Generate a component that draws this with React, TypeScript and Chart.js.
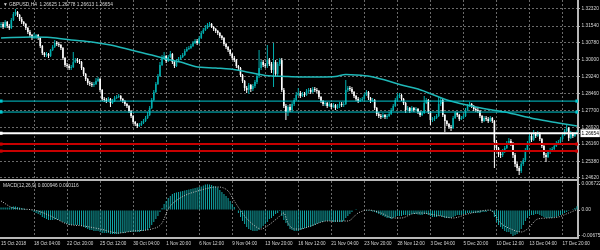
import React, { useEffect, useRef } from 'react';
import { Chart, registerables } from 'chart.js';

Chart.register(...registerables);

// ---------------- data ----------------
const symbolTitle = '▼ GBPUSD,H4  1.26625 1.26778 1.26613 1.26654';
const macdTitle = 'MACD(12,26,9) 0.000946 0.000116';

const dateTicks = ['15 Oct 2018', '18 Oct 04:00', '22 Oct 20:00', '25 Oct 12:00', '30 Oct 04:00', '1 Nov 20:00',
  '6 Nov 12:00', '9 Nov 04:00', '13 Nov 20:00', '16 Nov 12:00', '21 Nov 04:00', '23 Nov 20:00', '28 Nov 12:00',
  '3 Dec 04:00', '5 Dec 20:00', '10 Dec 12:00', '13 Dec 04:00', '17 Dec 20:00'];
const barsPerDateTick = 16;

const priceTicks = [1.2462, 1.2538, 1.2616, 1.2692, 1.277, 1.2846, 1.2924, 1.3, 1.3078, 1.3154, 1.3232];
const lastPrice = 1.26654;
const priceMin = 1.24522;
const priceMax = 1.3273;

const macdTicks = [-0.00675, 0, 0.006722];
const macdMin = -0.00728;
const macdMax = 0.00754;

const firstOpen = 1.3159;
const lastOpen = 1.26625;

const closes = [
  1.3164, 1.3150, 1.3173, 1.3154, 1.3145, 1.3182, 1.3209, 1.3218, 1.3205, 1.3186,
  1.3173, 1.3164, 1.3145, 1.3127, 1.3113, 1.3100, 1.3104, 1.3113, 1.3100, 1.3063,
  1.3031, 1.3022, 1.3027, 1.3018, 1.3045, 1.3059, 1.3077, 1.3072, 1.3068, 1.3054,
  1.3009, 1.2977, 1.2972, 1.2963, 1.2967, 1.2990, 1.2999, 1.2995, 1.2990, 1.2963,
  1.2936, 1.2913, 1.2895, 1.2890, 1.2885, 1.2890, 1.2904, 1.2913, 1.2863, 1.2822,
  1.2817, 1.2812, 1.2822, 1.2803, 1.2812, 1.2826, 1.2831, 1.2835, 1.2822, 1.2812,
  1.2799, 1.2790, 1.2767, 1.2744, 1.2717, 1.2708, 1.2698, 1.2703, 1.2712, 1.2721,
  1.2735, 1.2749, 1.2781, 1.2817, 1.2853, 1.2890, 1.2926, 1.2977, 1.3009, 1.3018,
  1.2995, 1.3013, 1.3027, 1.2990, 1.2972, 1.2995, 1.3004, 1.3013, 1.3022, 1.3040,
  1.3050, 1.3054, 1.3063, 1.3077, 1.3086, 1.3077, 1.3100, 1.3123, 1.3136, 1.3145,
  1.3159, 1.3164, 1.3150, 1.3141, 1.3132, 1.3123, 1.3109, 1.3100, 1.3072, 1.3059,
  1.3045, 1.3027, 1.3009, 1.2999, 1.2972, 1.2963, 1.2931, 1.2904, 1.2872, 1.2863,
  1.2885, 1.2867, 1.2881, 1.2899, 1.2926, 1.2963, 1.2990, 1.2977, 1.2972, 1.2999,
  1.2981, 1.2954, 1.2990, 1.2936, 1.2981, 1.2999, 1.2863, 1.2790, 1.2762, 1.2785,
  1.2771, 1.2799, 1.2817, 1.2840, 1.2849, 1.2835, 1.2844, 1.2840, 1.2858, 1.2863,
  1.2853, 1.2867, 1.2863, 1.2858, 1.2831, 1.2812, 1.2799, 1.2803, 1.2790, 1.2799,
  1.2785, 1.2794, 1.2781, 1.2790, 1.2799, 1.2794, 1.2799, 1.2863, 1.2872, 1.2867,
  1.2853, 1.2835, 1.2822, 1.2812, 1.2817, 1.2822, 1.2840, 1.2853, 1.2826, 1.2812,
  1.2817, 1.2781, 1.2753, 1.2744, 1.2739, 1.2749, 1.2739, 1.2744, 1.2753, 1.2771,
  1.2790, 1.2817, 1.2835, 1.2840, 1.2822, 1.2803, 1.2771, 1.2781, 1.2767, 1.2781,
  1.2771, 1.2776, 1.2762, 1.2749, 1.2758, 1.2803, 1.2817, 1.2762, 1.2726, 1.2730,
  1.2735, 1.2744, 1.2799, 1.2817, 1.2749, 1.2721, 1.2708, 1.2694, 1.2689, 1.2735,
  1.2758, 1.2749, 1.2730, 1.2735, 1.2744, 1.2771, 1.2790, 1.2799, 1.2790, 1.2776,
  1.2771, 1.2767, 1.2744, 1.2721, 1.2735, 1.2730, 1.2721, 1.2735, 1.2721, 1.2625,
  1.2598, 1.2571, 1.2566, 1.2584, 1.2598, 1.2621, 1.2630, 1.2621, 1.2566, 1.2525,
  1.2507, 1.2493, 1.2525, 1.2543, 1.2589, 1.2621, 1.2653, 1.2635, 1.2662, 1.2653,
  1.2662, 1.2639, 1.2607, 1.2566, 1.2557, 1.2580, 1.2589, 1.2594, 1.2607, 1.2621,
  1.2625, 1.2639, 1.2657, 1.2676, 1.2689, 1.2644, 1.2667, 1.2653, 1.2662, 1.26654,
];

const highs = [
  1.3173, 1.3173, 1.3182, 1.3177, 1.3164, 1.3191, 1.3218, 1.3232, 1.3223, 1.3209,
  1.3195, 1.3177, 1.3168, 1.3150, 1.3136, 1.3118, 1.3123, 1.3118, 1.3118, 1.3104,
  1.3068, 1.3036, 1.3036, 1.3031, 1.3050, 1.3068, 1.3091, 1.3086, 1.3081, 1.3072,
  1.3059, 1.3013, 1.2986, 1.2981, 1.2977, 1.3036, 1.3009, 1.3009, 1.3004, 1.2995,
  1.2967, 1.2940, 1.2917, 1.2904, 1.2899, 1.2899, 1.2917, 1.2922, 1.2917, 1.2867,
  1.2831, 1.2826, 1.2831, 1.2826, 1.2822, 1.2835, 1.2840, 1.2844, 1.2840, 1.2826,
  1.2817, 1.2803, 1.2794, 1.2771, 1.2749, 1.2721, 1.2712, 1.2712, 1.2721, 1.2730,
  1.2744, 1.2762, 1.2790, 1.2826, 1.2863, 1.2899, 1.2936, 1.2990, 1.3022, 1.3036,
  1.3022, 1.3022, 1.3040, 1.3031, 1.2999, 1.3004, 1.3013, 1.3022, 1.3031, 1.3050,
  1.3059, 1.3063, 1.3072, 1.3086, 1.3095, 1.3095, 1.3109, 1.3132, 1.3145, 1.3159,
  1.3168, 1.3173, 1.3168, 1.3154, 1.3145, 1.3136, 1.3127, 1.3113, 1.3104, 1.3077,
  1.3063, 1.3050, 1.3031, 1.3018, 1.3004, 1.2977, 1.2967, 1.2936, 1.2908, 1.2881,
  1.2895, 1.2890, 1.2890, 1.2908, 1.2936, 1.3045, 1.2999, 1.2999, 1.2986, 1.3068,
  1.3009, 1.2990, 1.3077, 1.2999, 1.2990, 1.3009, 1.3009, 1.2872, 1.2799, 1.2794,
  1.2799, 1.2808, 1.2826, 1.2853, 1.2872, 1.2858, 1.2853, 1.2853, 1.2867, 1.2872,
  1.2872, 1.2876, 1.2876, 1.2872, 1.2863, 1.2835, 1.2817, 1.2812, 1.2808, 1.2808,
  1.2803, 1.2803, 1.2799, 1.2799, 1.2808, 1.2808, 1.2808, 1.2908, 1.2881, 1.2881,
  1.2876, 1.2858, 1.2840, 1.2831, 1.2826, 1.2831, 1.2849, 1.2863, 1.2858, 1.2831,
  1.2826, 1.2822, 1.2785, 1.2762, 1.2753, 1.2758, 1.2753, 1.2753, 1.2762, 1.2781,
  1.2799, 1.2826, 1.2849, 1.2849, 1.2844, 1.2826, 1.2808, 1.2790, 1.2785, 1.2790,
  1.2785, 1.2785, 1.2781, 1.2767, 1.2767, 1.2835, 1.2826, 1.2822, 1.2767, 1.2739,
  1.2744, 1.2753, 1.2831, 1.2826, 1.2822, 1.2753, 1.2726, 1.2712, 1.2703, 1.2744,
  1.2767, 1.2762, 1.2753, 1.2744, 1.2753, 1.2781, 1.2799, 1.2808, 1.2803, 1.2794,
  1.2785, 1.2781, 1.2771, 1.2749, 1.2744, 1.2744, 1.2739, 1.2744, 1.2739, 1.2726,
  1.2635, 1.2603, 1.2580, 1.2594, 1.2607, 1.2630, 1.2644, 1.2639, 1.2625, 1.2575,
  1.2534, 1.2516, 1.2534, 1.2553, 1.2598, 1.2630, 1.2667, 1.2662, 1.2680, 1.2671,
  1.2676, 1.2671, 1.2644, 1.2612, 1.2575, 1.2589, 1.2598, 1.2603, 1.2616, 1.2630,
  1.2635, 1.2648, 1.2667, 1.2685, 1.2703, 1.2694, 1.2676, 1.2671, 1.2671, 1.26778,
];

const lows = [
  1.3145, 1.3141, 1.3145, 1.3145, 1.3136, 1.3141, 1.3177, 1.3200, 1.3195, 1.3177,
  1.3164, 1.3154, 1.3136, 1.3118, 1.3104, 1.3091, 1.3095, 1.3095, 1.3091, 1.3054,
  1.3022, 1.3013, 1.3013, 1.3009, 1.3013, 1.3040, 1.3054, 1.3063, 1.3059, 1.3045,
  1.2999, 1.2967, 1.2963, 1.2954, 1.2954, 1.2963, 1.2986, 1.2986, 1.2981, 1.2954,
  1.2926, 1.2904, 1.2885, 1.2881, 1.2876, 1.2876, 1.2885, 1.2899, 1.2853, 1.2812,
  1.2808, 1.2803, 1.2808, 1.2785, 1.2799, 1.2808, 1.2822, 1.2826, 1.2812, 1.2803,
  1.2790, 1.2781, 1.2758, 1.2735, 1.2708, 1.2698, 1.2689, 1.2694, 1.2698, 1.2708,
  1.2717, 1.2730, 1.2744, 1.2776, 1.2812, 1.2849, 1.2885, 1.2922, 1.2972, 1.2999,
  1.2986, 1.2990, 1.3009, 1.2981, 1.2963, 1.2967, 1.2990, 1.2999, 1.3009, 1.3018,
  1.3036, 1.3045, 1.3050, 1.3059, 1.3072, 1.3068, 1.3072, 1.3095, 1.3118, 1.3132,
  1.3141, 1.3150, 1.3145, 1.3132, 1.3123, 1.3113, 1.3100, 1.3091, 1.3063, 1.3050,
  1.3036, 1.3018, 1.2999, 1.2990, 1.2963, 1.2949, 1.2922, 1.2895, 1.2858, 1.2849,
  1.2844, 1.2853, 1.2858, 1.2872, 1.2890, 1.2917, 1.2954, 1.2967, 1.2963, 1.2963,
  1.2972, 1.2940, 1.2876, 1.2926, 1.2926, 1.2972, 1.2853, 1.2781, 1.2726, 1.2744,
  1.2762, 1.2762, 1.2790, 1.2812, 1.2835, 1.2826, 1.2831, 1.2831, 1.2835, 1.2849,
  1.2844, 1.2849, 1.2853, 1.2849, 1.2822, 1.2803, 1.2790, 1.2790, 1.2781, 1.2785,
  1.2776, 1.2781, 1.2771, 1.2776, 1.2781, 1.2785, 1.2785, 1.2794, 1.2853, 1.2858,
  1.2844, 1.2826, 1.2812, 1.2803, 1.2808, 1.2812, 1.2817, 1.2835, 1.2817, 1.2803,
  1.2808, 1.2771, 1.2744, 1.2735, 1.2730, 1.2735, 1.2730, 1.2730, 1.2739, 1.2749,
  1.2767, 1.2785, 1.2812, 1.2826, 1.2812, 1.2794, 1.2758, 1.2767, 1.2758, 1.2762,
  1.2762, 1.2767, 1.2753, 1.2739, 1.2744, 1.2753, 1.2799, 1.2753, 1.2703, 1.2717,
  1.2721, 1.2730, 1.2739, 1.2790, 1.2739, 1.2671, 1.2698, 1.2685, 1.2676, 1.2685,
  1.2730, 1.2739, 1.2721, 1.2726, 1.2730, 1.2739, 1.2767, 1.2785, 1.2781, 1.2767,
  1.2762, 1.2758, 1.2735, 1.2712, 1.2717, 1.2721, 1.2712, 1.2717, 1.2712, 1.2507,
  1.2584, 1.2557, 1.2553, 1.2557, 1.2575, 1.2594, 1.2612, 1.2607, 1.2553, 1.2511,
  1.2493, 1.2475, 1.2484, 1.2516, 1.2534, 1.2584, 1.2612, 1.2625, 1.2630, 1.2644,
  1.2648, 1.2630, 1.2598, 1.2553, 1.2534, 1.2553, 1.2571, 1.2580, 1.2589, 1.2603,
  1.2612, 1.2621, 1.2635, 1.2653, 1.2671, 1.2630, 1.2639, 1.2644, 1.2648, 1.26613,
];

// moving average, read at sample bars
const maBars = [0, 15, 24, 34, 44, 53, 63, 73, 80, 87, 94, 104, 111, 119, 128, 138, 145, 155, 162, 167, 172, 179, 186, 194, 202, 216, 230, 244, 259, 270, 279];
const maValues = [1.3100, 1.3104, 1.3102, 1.3091, 1.3082, 1.3068, 1.3045, 1.3022, 1.3004, 1.2990, 1.2970, 1.2963, 1.2958, 1.2945, 1.2929, 1.2924, 1.2922, 1.2922, 1.2924, 1.2933, 1.2931, 1.2924, 1.2908, 1.2885, 1.2867, 1.2817, 1.2785, 1.2762, 1.2730, 1.2712, 1.2698];

const cyanLevels = [1.2812, 1.2762];
const redLevels = [1.2616, 1.2584];

const macdValues = [
  0.00065, 0.00065, 0.00065, 0.00065, 0.00065, 0.00078, 0.00091, 0.00091, 0.00078, 0.00065,
  0.00052, 0.00039, 0.00026, 0.00013, 0, -0.00026, -0.00052, -0.00078, -0.00104, -0.0013,
  -0.00182, -0.00208, -0.00234, -0.0026, -0.0026, -0.0026, -0.00247, -0.00247, -0.0026, -0.00286,
  -0.00312, -0.00338, -0.00364, -0.0039, -0.0039, -0.0039, -0.0039, -0.0039, -0.0039, -0.00416,
  -0.00442, -0.00468, -0.00494, -0.0052, -0.0052, -0.00546, -0.00546, -0.00546, -0.00572, -0.00598,
  -0.00598, -0.00598, -0.00598, -0.00624, -0.00624, -0.00624, -0.00624, -0.00624, -0.00598, -0.00598,
  -0.00598, -0.00572, -0.00572, -0.00572, -0.00572, -0.00572, -0.00572, -0.00572, -0.00546, -0.00546,
  -0.0052, -0.0052, -0.00468, -0.0039, -0.00312, -0.00234, -0.00156, -0.00052, 0.00052, 0.00156,
  0.00234, 0.00312, 0.00364, 0.00416, 0.00442, 0.00455, 0.00468, 0.00481, 0.00494, 0.00507,
  0.0052, 0.00533, 0.00546, 0.00559, 0.00572, 0.00585, 0.00598, 0.00611, 0.00637, 0.00663,
  0.006722, 0.00663, 0.0065, 0.00624, 0.00611, 0.00585, 0.0052, 0.00468, 0.00416, 0.00364,
  0.00312, 0.00234, 0.00156, 0.00078, 0, -0.00078, -0.00182, -0.00286, -0.00364, -0.00442,
  -0.00494, -0.0052, -0.00546, -0.00546, -0.00546, -0.0052, -0.00468, -0.00416, -0.00364, -0.00312,
  -0.00234, -0.00208, -0.00156, -0.00104, -0.00078, -0.00026, -0.00156, -0.0026, -0.00338, -0.00416,
  -0.00494, -0.0052, -0.00546, -0.00546, -0.00546, -0.0052, -0.00494, -0.00468, -0.00468, -0.00442,
  -0.00442, -0.00416, -0.0039, -0.00364, -0.00338, -0.00312, -0.00312, -0.00286, -0.00286, -0.00286,
  -0.00286, -0.00312, -0.00312, -0.00312, -0.00312, -0.00312, -0.00286, -0.00208, -0.00156, -0.00104,
  -0.00052, 0, 0.00026, 0.00013, 0, 0, -0.00013, -0.00026, -0.00026, -0.00026,
  -0.00039, -0.00052, -0.00078, -0.00104, -0.0013, -0.00156, -0.00182, -0.00208, -0.00208, -0.00234,
  -0.00208, -0.00182, -0.00156, -0.00156, -0.00156, -0.0013, -0.0013, -0.0013, -0.0013, -0.00104,
  -0.00104, -0.00104, -0.00117, -0.0013, -0.0013, -0.00104, -0.00104, -0.0013, -0.00156, -0.00182,
  -0.00182, -0.00182, -0.00156, -0.00156, -0.00182, -0.00208, -0.00208, -0.00208, -0.00208, -0.00182,
  -0.00156, -0.0013, -0.0013, -0.0013, -0.00104, -0.00104, -0.00078, -0.00078, -0.00078, -0.00078,
  -0.00078, -0.00078, -0.00078, -0.00052, -0.00052, -0.00052, -0.00026, -0.00026, -0.00052, -0.00182,
  -0.00312, -0.0039, -0.00442, -0.00494, -0.00546, -0.00572, -0.00572, -0.00624, -0.00675, -0.0065,
  -0.00624, -0.00572, -0.00494, -0.0039, -0.00286, -0.00208, -0.00156, -0.0013, -0.0013, -0.00104,
  -0.00104, -0.0013, -0.00156, -0.00182, -0.00208, -0.00208, -0.00208, -0.00208, -0.00182, -0.00182,
  -0.00156, -0.0013, -0.00104, -0.00078, -0.00052, -0.00026, 0, 0.00026, 0.00052, 0.000946,
];

const signalBars = [0, 6, 16, 24, 32, 40, 48, 57, 64, 73, 78, 81, 86, 97, 105, 110, 113, 118, 123, 126, 129, 134, 137, 139, 142, 145, 150, 158, 168, 173, 178, 184, 190, 194, 199, 203, 213, 219, 226, 237, 242, 247, 252, 255, 260, 265, 270, 275, 279];
const signalValues = [0.00234, 0.00052, 0, -0.00156, -0.00364, -0.00416, -0.00494, -0.00598, -0.00546, -0.00494,
  -0.00338, 0.00026, 0.00286, 0.0052, 0.00598, 0.00494, 0.00234, -0.00156, -0.00416, -0.00494,
  -0.00416, -0.00208, -0.00078, -0.00338, -0.00494, -0.00494, -0.00416, -0.00286, -0.00286, -0.00078,
  0, -0.00078, -0.00208, -0.00208, -0.00104, -0.00078, -0.00156, -0.00208, -0.00104, 0,
  -0.00338, -0.00494, -0.00572, -0.00494, -0.00234, -0.00208, -0.00182, -0.00078, 0.000116];

// ---------------- styles ----------------
const BG = '#000000';
const BULL = '#00adad';
const BEAR = '#ffffff';
const MA_COLOR = '#1fb8b8';
const CYAN = '#00c8d0';
const RED = '#c80000';
const WHITE = '#ffffff';
const HIST = '#12a8a8';
const SIGNAL = '#c8c8c8';
const GRID = '#6a6a6a';
const AXIS = '#b8b8b8';
const TEXT = '#d8d8d8';
const FONT = 'Liberation Sans';

function panelTitle(text: string) {
  return {
    id: 'panelTitle',
    afterDraw(chart: any) {
      const ctx = chart.ctx;
      ctx.save();
      ctx.font = `4.8px "${FONT}"`;
      ctx.fillStyle = TEXT;
      ctx.textBaseline = 'middle';
      ctx.textAlign = 'left';
      ctx.fillText(text, 3, 4.5);
      ctx.restore();
    },
  };
}

export default function App() {
  const mainRef = useRef<HTMLCanvasElement>(null);
  const macdRef = useRef<HTMLCanvasElement>(null);

  useEffect(() => {
    document.body.style.margin = '0';
    document.body.style.background = BG;
    const n = closes.length;
    const opens = closes.map((_, i) => (i === 0 ? firstOpen : i === n - 1 ? lastOpen : closes[i - 1]));
    const candleColor = (ctx: any) => (closes[ctx.dataIndex] >= opens[ctx.dataIndex] ? BULL : BEAR);
    const xMin = -0.5;
    const xMax = n - 0.5;
    const setDateTicks = (s: any) => {
      s.ticks = dateTicks.map((_, k) => ({ value: k * barsPerDateTick }));
    };
    const vGridColor = (ctx: any) => (ctx.tick && ctx.tick.value > 0 ? GRID : 'rgba(0,0,0,0)');

    const levelLine = (v: number, color: string, width: number, markRight: boolean) => ({
      type: 'line',
      data: [
        { x: xMin, y: v },
        { x: 0, y: v },
        { x: n - 1, y: v },
        { x: xMax, y: v },
      ],
      borderColor: color,
      borderWidth: width,
      pointStyle: 'rect',
      pointRadius: [0, 2.2, markRight ? 2.2 : 0, 0],
      pointBackgroundColor: color,
      pointBorderWidth: 0,
      order: 1,
    });

    const main = new Chart(mainRef.current as HTMLCanvasElement, {
      type: 'bar',
      data: {
        datasets: [
          ...cyanLevels.map((v) => levelLine(v, CYAN, 1, true)),
          ...redLevels.map((v) => levelLine(v, RED, 2, true)),
          levelLine(lastPrice, WHITE, 2, false),
          {
            type: 'line',
            data: maBars.map((x, k) => ({ x, y: maValues[k] })),
            borderColor: MA_COLOR,
            borderWidth: 1.5,
            pointRadius: 0,
            cubicInterpolationMode: 'monotone',
            order: 2,
          },
          {
            data: closes.map((c, i) => ({ x: i, y: [opens[i], c] })),
            backgroundColor: candleColor,
            barThickness: 1.6,
            grouped: false,
            minBarLength: 1,
            inflateAmount: 0,
            order: 3,
          },
          {
            data: closes.map((_, i) => ({ x: i, y: [lows[i], highs[i]] })),
            backgroundColor: candleColor,
            barThickness: 1,
            grouped: false,
            inflateAmount: 0,
            order: 4,
          },
        ] as any,
      },
      options: {
        animation: false,
        responsive: false,
        events: [],
        layout: { padding: { left: 0, right: 0, top: 0, bottom: 1 } },
        plugins: { legend: { display: false }, tooltip: { enabled: false } },
        scales: {
          x: {
            type: 'linear',
            min: xMin,
            max: xMax,
            offset: false,
            bounds: 'data',
            afterBuildTicks: setDateTicks,
            afterFit: (s: any) => {
              s.height = 0;
              s.paddingLeft = 0;
              s.paddingRight = 0;
            },
            grid: { offset: false, color: vGridColor, drawTicks: false, lineWidth: 1 },
            border: { display: true, color: AXIS, width: 2, dash: [2, 2] },
            ticks: { display: false },
          },
          y: {
            type: 'linear',
            position: 'right',
            min: priceMin,
            max: priceMax,
            bounds: 'data',
            afterBuildTicks: (s: any) => {
              s.ticks = [...priceTicks, lastPrice].map((value) => ({ value }));
            },
            afterFit: (s: any) => {
              s.width = 22;
              s.paddingTop = 0;
              s.paddingBottom = 0;
            },
            grid: {
              color: (ctx: any) => (ctx.tick && ctx.tick.value === lastPrice ? 'rgba(0,0,0,0)' : GRID),
              drawTicks: true,
              tickLength: 2,
              tickColor: AXIS,
              lineWidth: 1,
            },
            border: { display: true, color: AXIS, width: 2, dash: [2, 2] },
            ticks: {
              autoSkip: false,
              padding: 1.5,
              font: { family: FONT, size: 4.8 },
              color: (ctx: any) => (ctx.tick && ctx.tick.value === lastPrice ? '#000000' : TEXT),
              showLabelBackdrop: (ctx: any) => !!(ctx.tick && ctx.tick.value === lastPrice),
              backdropColor: '#ffffff',
              backdropPadding: { x: 1, y: 1 },
              callback: (v: any) => Number(v).toFixed(5),
            },
          },
        },
      } as any,
      plugins: [panelTitle(symbolTitle)],
    });

    const macd = new Chart(macdRef.current as HTMLCanvasElement, {
      type: 'bar',
      data: {
        datasets: [
          {
            type: 'line',
            data: signalBars.map((x, k) => ({ x, y: signalValues[k] })),
            borderColor: SIGNAL,
            borderWidth: 1,
            borderDash: [1, 1.5],
            pointRadius: 0,
            cubicInterpolationMode: 'monotone',
            order: 1,
          },
          {
            data: macdValues.map((y, i) => ({ x: i, y })),
            backgroundColor: HIST,
            barThickness: 1,
            inflateAmount: 0,
            grouped: false,
            order: 2,
          },
        ] as any,
      },
      options: {
        animation: false,
        responsive: false,
        events: [],
        layout: { padding: 0 },
        plugins: { legend: { display: false }, tooltip: { enabled: false } },
        scales: {
          x: {
            type: 'linear',
            min: xMin,
            max: xMax,
            offset: false,
            bounds: 'data',
            afterBuildTicks: setDateTicks,
            afterFit: (s: any) => {
              s.height = 12;
              s.paddingLeft = 0;
              s.paddingRight = 0;
            },
            grid: { offset: false, color: vGridColor, drawTicks: false, lineWidth: 1 },
            border: { display: true, color: AXIS, width: 2, dash: [2, 2] },
            ticks: {
              autoSkip: false,
              maxRotation: 0,
              align: 'start',
              padding: 3,
              color: TEXT,
              font: { family: FONT, size: 4.6 },
              callback: (v: any) => dateTicks[Math.round(Number(v) / barsPerDateTick)] ?? '',
            },
          },
          y: {
            type: 'linear',
            position: 'right',
            min: macdMin,
            max: macdMax,
            bounds: 'data',
            afterBuildTicks: (s: any) => {
              s.ticks = macdTicks.map((value) => ({ value }));
            },
            afterFit: (s: any) => {
              s.width = 22;
              s.paddingTop = 0;
              s.paddingBottom = 0;
            },
            grid: { drawOnChartArea: false, drawTicks: true, tickLength: 2, tickColor: AXIS },
            border: { display: true, color: AXIS, width: 2 },
            ticks: {
              autoSkip: false,
              padding: 1.5,
              color: TEXT,
              font: { family: FONT, size: 4.8 },
              callback: (v: any) => (Number(v) === 0 ? '0.00' : Number(v).toFixed(6)),
            },
          },
        },
      } as any,
      plugins: [panelTitle(macdTitle)],
    });

    return () => {
      main.destroy();
      macd.destroy();
    };
  }, []);

  return (
    <div style={{ width: 600, height: 250, background: BG, overflow: 'hidden' }}>
      <canvas ref={mainRef} width={600} height={181} style={{ display: 'block' }} />
      <canvas ref={macdRef} width={600} height={69} style={{ display: 'block' }} />
    </div>
  );
}
